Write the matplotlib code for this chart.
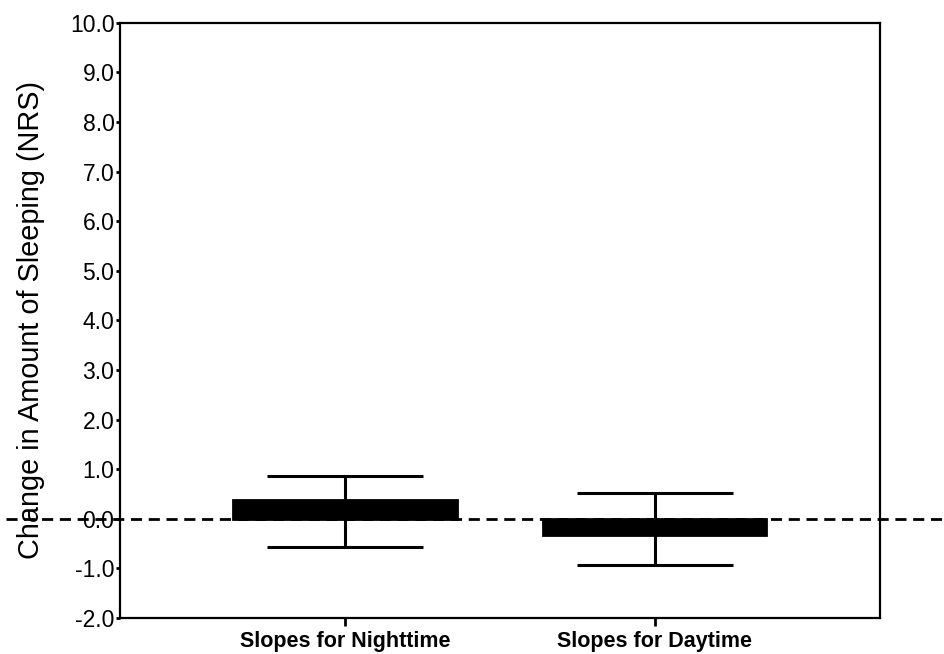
import matplotlib
matplotlib.use("Agg")
import matplotlib.pyplot as plt
from matplotlib import font_manager
import numpy as np

plt.rcParams["font.family"] = ["Liberation Sans", "DejaVu Sans"]

# slope estimates with their interval limits (NRS units)
categories = ["Slopes for Nighttime", "Slopes for Daytime"]
slopes = [0.38, -0.33]
ci_low = [-0.57, -0.93]
ci_high = [0.87, 0.53]
yticks = np.arange(-2.0, 10.01, 1.0)

# condensed face for the category labels if it is around
try:
    font_manager.findfont("Liberation Sans Narrow", fallback_to_default=False)
    cat_font, cat_size = "Liberation Sans Narrow", 19
except ValueError:
    cat_font, cat_size = "Liberation Sans", 15.5

fig = plt.figure(figsize=(9.44, 6.54), dpi=100)
ax = fig.add_axes([0.1271, 0.055, 0.805, 0.91])

x = np.arange(len(categories))
ax.bar(x, slopes, width=0.72, color="black", edgecolor="black", linewidth=2, zorder=2)
lo = np.array(slopes) - np.array(ci_low)
hi = np.array(ci_high) - np.array(slopes)
ax.errorbar(x, slopes, yerr=[lo, hi], fmt="none", ecolor="black", elinewidth=2.2,
            capsize=56, capthick=2.2, zorder=3)

# zero reference runs across the whole figure width
ax.axhline(0, xmin=-0.15, xmax=1.09, color="black", linestyle=(0, (4, 2.4)),
           linewidth=2, clip_on=False, zorder=1)

ax.set_xlim(-0.726, 1.726)
ax.set_ylim(-2.0, 10.0)
ax.set_yticks(yticks)
ax.set_yticklabels([f"{v:.1f}" for v in yticks], fontsize=16.5)
ax.set_xticks(x)
ax.set_xticklabels(categories, fontsize=cat_size, fontweight="bold",
                   family=[cat_font, "Liberation Sans"])
ax.tick_params(axis="y", length=3, width=2, pad=1)
ax.tick_params(axis="x", length=6, width=2, pad=3)
ax.set_ylabel("Change in Amount of Sleeping (NRS)", fontsize=20.8, labelpad=18)
for s in ax.spines.values():
    s.set_linewidth(1.6)

fig.savefig("out.png", dpi=100)
